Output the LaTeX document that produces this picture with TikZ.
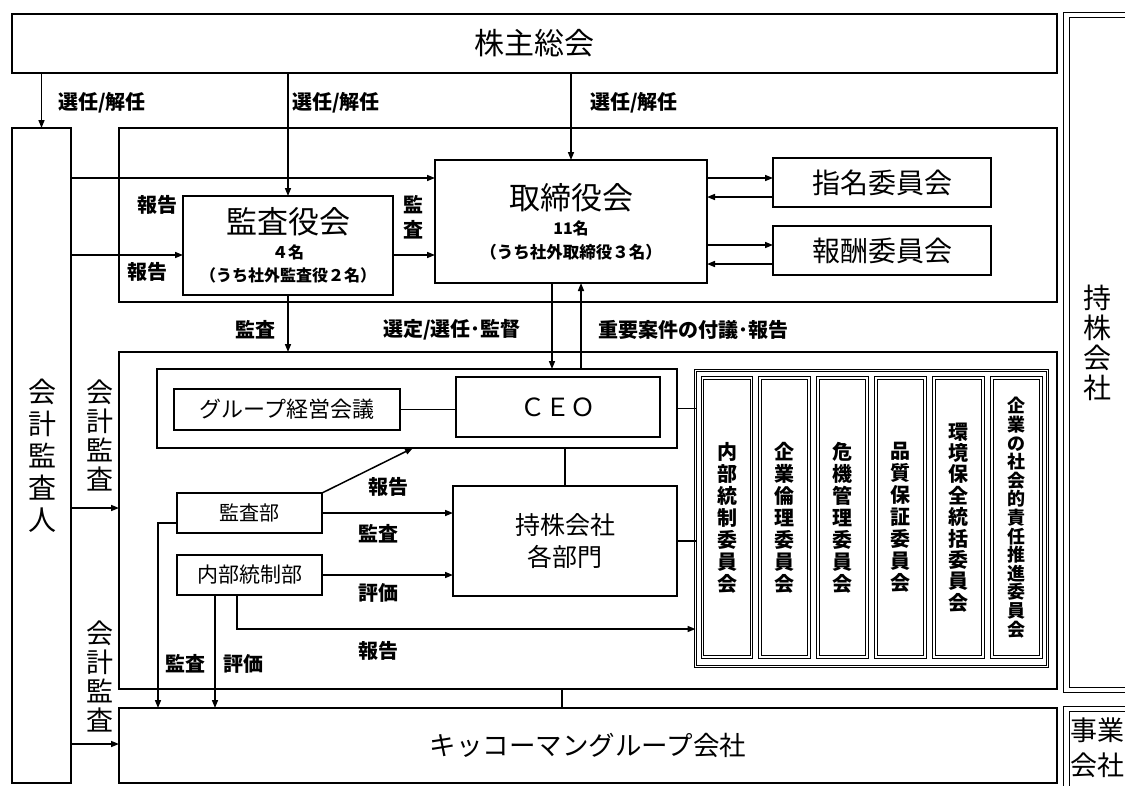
\documentclass[tikz,border=0pt]{standalone}
\usepackage{fontspec}
\setmainfont{Noto Sans CJK JP}
\usetikzlibrary{arrows.meta,calc}
\newcommand\myfs[2]{\fontsize{#1pt}{#2pt}\selectfont}
\newcommand\myfb[2]{\fontsize{#1pt}{#2pt}\selectfont\bfseries}
\tikzset{
  bx/.style={draw, line width=1.8pt, inner sep=0pt, outer sep=0pt},
  dbx/.style={draw, double, line width=1.1pt, double distance=1.6pt, inner sep=0pt, outer sep=0pt},
  dbxw/.style={draw, double, line width=1.2pt, double distance=4.2pt, inner sep=0pt, outer sep=0pt},
  arr/.style={line width=1.5pt, -{Triangle[length=8pt,width=6pt]}},
  ln/.style={line width=1.5pt},
  tx/.style={inner sep=0pt, outer sep=0pt},
  lbl/.style={inner sep=0pt, outer sep=0pt, font=\myfb{20}{22}},
  vt/.style={inner sep=0pt, outer sep=0pt, align=center},
}
\begin{document}
\begin{tikzpicture}[x=1pt,y=-1pt]
\useasboundingbox (0,0) rectangle (1125,785);
\clip (0,0) rectangle (1125,785);
\fill[white] (0,0) rectangle (1125,785);

% helper coordinates
\coordinate (c178) at (0,178);
\coordinate (c197) at (0,197);
\coordinate (c245) at (0,245);
\coordinate (c264) at (0,264);
\coordinate (c255) at (0,255);
\coordinate (c508) at (0,508);
\coordinate (c523) at (0,523);
\coordinate (c629) at (0,629);
\coordinate (c744) at (0,744);
\coordinate (x552) at (552,0);
\coordinate (x581) at (581,0);
\coordinate (x413) at (413,0);
\coordinate (x237) at (237,0);
\coordinate (x215) at (215,0);
\coordinate (x158) at (158,0);
\coordinate (x562) at (562,0);

% main boxes
\node[bx, minimum width=1045pt, minimum height=59pt, font=\myfs{30}{32}] (kabu) at (534.5,43.5) {株主総会};
\node[bx, minimum width=59pt, minimum height=655pt] (kaikei) at (41.5,455.5) {};
\node[vt, font=\myfs{28}{32}] (kaikeiT) at (42,456) {会\\計\\監\\査\\人};

\node[bx, minimum width=938pt, minimum height=174pt] (board) at (588,215) {};
\node[bx, minimum width=210pt, minimum height=99pt] (ksy) at (288,245.5) {};
\node[tx, font=\myfs{31}{33}] (ksyT) at (288,222) {監査役会};
\node[tx, font=\myfb{16}{18}] (ksyN) at (288,252) {４名};
\node[tx, font=\myfb{16}{18}] (ksyP) at (288,275) {（うち社外監査役２名）};

\node[bx, minimum width=272pt, minimum height=123pt] (tori) at (571,221.5) {};
\node[tx, font=\myfs{31}{33}] (toriT) at (571,198) {取締役会};
\node[tx, font=\myfb{16}{18}] (toriN) at (571,228) {11名};
\node[tx, font=\myfb{16.5}{18}] (toriP) at (571,252) {（うち社外取締役３名）};

\node[bx, minimum width=218pt, minimum height=49pt, font=\myfs{28}{30}] (shimei) at (882,182.5) {指名委員会};
\node[bx, minimum width=218pt, minimum height=49pt, font=\myfs{28}{30}] (hoshu) at (882,250.5) {報酬委員会};

\node[bx, minimum width=938pt, minimum height=337pt] (mgmt) at (588,520.5) {};
\node[bx, minimum width=520pt, minimum height=79pt] (grp) at (417,408.5) {};
\node[bx, minimum width=226pt, minimum height=41pt, font=\myfs{22}{24}] (gkaigi) at (287,409.5) {グループ経営会議};
\node[bx, minimum width=204pt, minimum height=60pt, font=\myfs{25}{27}] (ceo) at (558,407) {ＣＥＯ};
\node[bx, minimum width=224pt, minimum height=110pt, align=center, font=\myfs{25}{32}] (bumon) at (565,541) {持株会社\\各部門};
\node[bx, minimum width=145pt, minimum height=40pt, font=\myfs{20}{22}] (kansabu) at (249.5,513) {監査部};
\node[bx, minimum width=145pt, minimum height=40pt, font=\myfs{21}{22}] (naibu) at (249.5,575) {内部統制部};

% committees
\node[dbx, minimum width=352pt, minimum height=296pt] (cmt) at (871.5,518.5) {};
\node[dbx, minimum width=49pt, minimum height=279pt] (k1) at (727,517.5) {};
\node[dbx, minimum width=49pt, minimum height=279pt] (k2) at (784.5,517.5) {};
\node[dbx, minimum width=49pt, minimum height=279pt] (k3) at (842.5,517.5) {};
\node[dbx, minimum width=49pt, minimum height=279pt] (k4) at (900.5,517.5) {};
\node[dbx, minimum width=49pt, minimum height=279pt] (k5) at (958.5,517.5) {};
\node[dbx, minimum width=49pt, minimum height=279pt] (k6) at (1016.5,517.5) {};
\node[vt, font=\myfb{20}{22}] (k1T) at (k1) {内\\部\\統\\制\\委\\員\\会};
\node[vt, font=\myfb{20}{22}] (k2T) at (k2) {企\\業\\倫\\理\\委\\員\\会};
\node[vt, font=\myfb{20}{22}] (k3T) at (k3) {危\\機\\管\\理\\委\\員\\会};
\node[vt, font=\myfb{20}{22}] (k4T) at (k4) {品\\質\\保\\証\\委\\員\\会};
\node[vt, font=\myfb{20}{21.4}] (k5T) at (k5) {環\\境\\保\\全\\統\\括\\委\\員\\会};
\node[vt, font=\myfb{18}{18.6}] (k6T) at (k6) {企\\業\\の\\社\\会\\的\\責\\任\\推\\進\\委\\員\\会};

\node[bx, minimum width=938pt, minimum height=75pt, font=\myfs{26.5}{28}] (gco) at (588,745.5) {キッコーマングループ会社};

% right column
\node[dbxw, minimum width=80pt, minimum height=675pt] (mochi) at (1106.5,352.5) {};
\node[vt, font=\myfs{28}{30}] (mochiT) at (1097,343) {持\\株\\会\\社};
\node[dbxw, minimum width=80pt, minimum height=91pt] (jigyo) at (1106.5,754.5) {};
\node[vt, font=\myfs{27}{35}] (jigyoT) at (1097,748) {事業\\会社};

% arrows from shareholders
\draw[arr] (kabu.south -| kaikei.north) -- (kaikei.north);
\draw[arr] (kabu.south -| ksy.north) -- (ksy.north);
\draw[arr] (kabu.south -| tori.north) -- (tori.north);
\node[lbl, anchor=west] (s1) at (58,103) {選任/解任};
\node[lbl, anchor=west] (s2) at (292,103) {選任/解任};
\node[lbl, anchor=west] (s3) at (590,103) {選任/解任};

% auditor reports
\draw[arr] (kaikei.east |- c178) -- (tori.west |- c178);
\draw[arr] (kaikei.east |- c255) -- (ksy.west |- c255);
\draw[arr] (ksy.east |- c255) -- (tori.west |- c255);
\node[lbl] (r1) at (157,205) {報告};
\node[lbl] (r2) at (147,272) {報告};
\node[vt, font=\myfb{20}{25}] (ks) at (413,217) {監\\査};

% board - committees
\draw[arr] (tori.east |- c178) -- (shimei.west |- c178);
\draw[arr] (shimei.west |- c197) -- (tori.east |- c197);
\draw[arr] (tori.east |- c245) -- (hoshu.west |- c245);
\draw[arr] (hoshu.west |- c264) -- (tori.east |- c264);

% board - management
\draw[arr] (ksy.south) -- (ksy.south |- mgmt.north);
\draw[arr] (tori.south -| x552) -- (grp.north -| x552);
\draw[arr] (grp.north -| x581) -- (tori.south -| x581);
\node[lbl] (l1) at (255,330) {監査};
\node[lbl] (l2) at (452,330) {選定/選任･監督};
\node[lbl, anchor=west] (l3) at (598,330) {重要案件の付議･報告};

% inside management
\draw[ln] (gkaigi.east) -- (gkaigi.east -| ceo.west);
\draw[ln] (bumon.north) -- (bumon.north |- grp.south);
\draw[ln] (grp.east) -- (grp.east -| cmt.west);
\draw[ln] (bumon.east) -- (bumon.east -| cmt.west);
\draw[arr] (kansabu.north east) -- (grp.south -| x413);
\draw[arr] (kansabu.east) -- (kansabu.east -| bumon.west);
\draw[arr] (naibu.east) -- (naibu.east -| bumon.west);
\draw[arr] (naibu.south -| x237) |- (cmt.west |- c629);
\draw[arr] (kansabu.west |- c523) -| (gco.north -| x158);
\draw[arr] (naibu.south -| x215) -- (gco.north -| x215);
\node[lbl] (m1) at (388,487) {報告};
\node[lbl] (m2) at (378,534) {監査};
\node[lbl] (m3) at (378,593) {評価};
\node[lbl] (m4) at (378,651) {報告};
\node[lbl] (m5) at (185,664) {監査};
\node[lbl] (m6) at (243,664) {評価};

% accounting audit
\draw[arr] (kaikei.east |- c508) -- (mgmt.west |- c508);
\draw[arr] (kaikei.east |- c744) -- (gco.west |- c744);
\node[vt, font=\myfs{27}{29}] (a1) at (100,435) {会\\計\\監\\査};
\node[vt, font=\myfs{27}{29}] (a2) at (100,676) {会\\計\\監\\査};

% management - group companies
\draw[ln] (mgmt.south -| x562) -- (gco.north -| x562);
\end{tikzpicture}
\end{document}
